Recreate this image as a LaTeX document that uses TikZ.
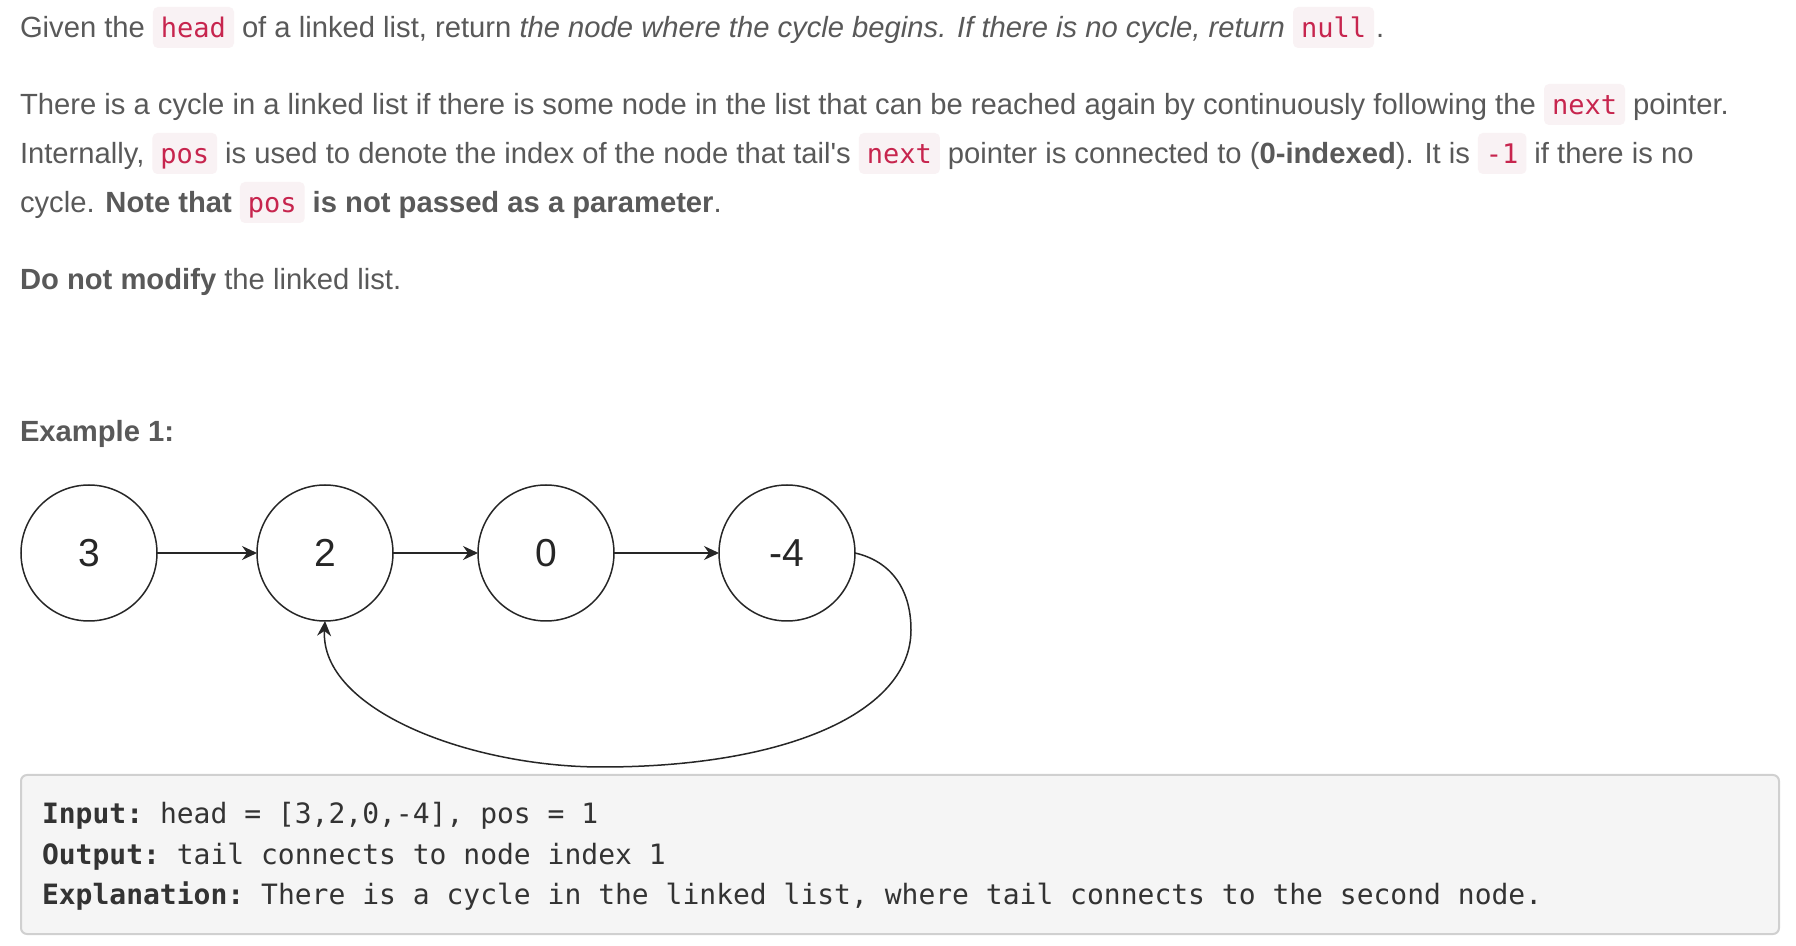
\documentclass[tikz,border=0pt]{standalone}
\usepackage{fontspec}
\setmainfont{Liberation Sans}
\setmonofont{DejaVu Sans Mono}
\newfontfamily\plainsans{Liberation Sans}
\usetikzlibrary{arrows.meta}
\definecolor{txt}{HTML}{595959}
\definecolor{codefg}{HTML}{C7254E}
\definecolor{codebg}{HTML}{F9F2F4}
\definecolor{ink}{HTML}{262626}
\definecolor{boxfill}{HTML}{F5F5F5}
\definecolor{boxline}{HTML}{D0D0D0}
\definecolor{boxtxt}{HTML}{333333}
\begin{document}
\begin{tikzpicture}[x=0.5pt,y=-0.5pt,
  every node/.style={inner sep=0pt, outer sep=0pt},
  txtn/.style={anchor=base west, text=txt, font=\fontsize{14.6pt}{17pt}\selectfont},
  chip/.style={anchor=base west, fill=codebg, text=codefg, rounded corners=2.5pt,
    font=\ttfamily\fontsize{13.5pt}{16pt}\selectfont, inner xsep=4pt,
    text height=15.5pt, text depth=5pt},
  listnode/.style={circle, draw=ink, line width=0.75pt, minimum size=68pt,
    font=\fontsize{19.5pt}{22pt}\selectfont, text=ink},
  link/.style={draw=ink, line width=0.75pt, -{Stealth[length=7.5pt,width=7pt,inset=2.5pt]}},
  codeln/.style={anchor=base west, text=boxtxt, font=\ttfamily\fontsize{14pt}{16pt}\selectfont},
  examplebox/.style={fill=boxfill, draw=boxline, line width=1pt, rounded corners=3pt}
]
\useasboundingbox[fill=white] (0,0) rectangle (1796,946);

% line 1
\node[txtn] (l1a) at (20,38) {Given the};
\node[chip] (l1b) at ([xshift=4pt]l1a.base east) {head};
\node[txtn] (l1c) at ([xshift=4pt]l1b.base east) {of a linked list, return \textit{the node where the cycle begins. If there is no cycle, return}};
\node[chip] (l1d) at ([xshift=4pt]l1c.base east) {null};
\node[txtn] (l1e) at ([xshift=1pt]l1d.base east) {.};

% line 2
\node[txtn] (l2a) at (20,115) {There is a cycle in a linked list if there is some node in the list that can be reached again by continuously following the};
\node[chip] (l2b) at ([xshift=4pt]l2a.base east) {next};
\node[txtn] (l2c) at ([xshift=4pt]l2b.base east) {pointer.};

% line 3
\node[txtn] (l3a) at (20,164) {Internally,};
\node[chip] (l3b) at ([xshift=4pt]l3a.base east) {pos};
\node[txtn] (l3c) at ([xshift=4pt]l3b.base east) {is used to denote the index of the node that tail{\plainsans '}s};
\node[chip] (l3d) at ([xshift=4pt]l3c.base east) {next};
\node[txtn] (l3e) at ([xshift=4pt]l3d.base east) {pointer is connected to (\textbf{0-indexed}). It is};
\node[chip] (l3f) at ([xshift=4pt]l3e.base east) {-1};
\node[txtn] (l3g) at ([xshift=4pt]l3f.base east) {if there is no};

% line 4
\node[txtn] (l4a) at (20,213) {cycle. \textbf{Note that}};
\node[chip] (l4b) at ([xshift=4pt]l4a.base east) {pos};
\node[txtn] (l4c) at ([xshift=4pt]l4b.base east) {\textbf{is not passed as a parameter}.};

% line 5
\node[txtn] (l5a) at (20,290) {\textbf{Do not modify} the linked list.};

% Example heading
\node[txtn] (ex) at (20,442) {\textbf{Example 1:}};

% linked list
\node[listnode] (n3) at (89,553) {3};
\node[listnode] (n2) at (325,553) {2};
\node[listnode] (n0) at (546,553) {0};
\node[listnode] (n4) at (787,553) {-4};

\draw[link] (n3) -- (n2);
\draw[link] (n2) -- (n0);
\draw[link] (n0) -- (n4);
\draw[link] (n4.east) .. controls (890,561) and (911,588) .. (911,630)
  .. controls (911,712) and (787,767) .. (602,767)
  .. controls (470,767) and (320,710) .. (n2.south);

% example box
\draw[examplebox] (21,775) rectangle (1779,934);
\node[codeln] (in) at (42,824) {\textbf{Input:} head = [3,2,0,-4], pos = 1};
\node[codeln] (out) at (42,864) {\textbf{Output:} tail connects to node index 1};
\node[codeln] (expl) at (42,904) {\textbf{Explanation:} There is a cycle in the linked list, where tail connects to the second node.};
\end{tikzpicture}
\end{document}
